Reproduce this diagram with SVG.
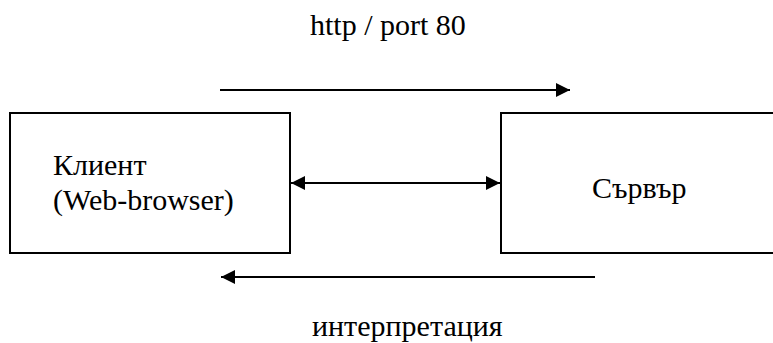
<svg xmlns="http://www.w3.org/2000/svg" width="773" height="343" viewBox="0 0 773 343">
  <style>
    .box { fill: #fff; stroke: #000; stroke-width: 2; }
    .line { stroke: #000; stroke-width: 2; fill: none; }
  </style>
  <defs>
    <marker id="head" viewBox="0 0 10 10" refX="10" refY="5" markerWidth="15" markerHeight="14" markerUnits="userSpaceOnUse" orient="auto-start-reverse">
      <path d="M0,0 L10,5 L0,10 Z" fill="#000"/>
    </marker>
  </defs>
  <rect width="773" height="343" fill="#fff"/>

  <g font-family="Liberation Serif, Times New Roman, Times, DejaVu Serif, serif" font-size="30" fill="#000">
    <g id="client">
      <rect class="box" x="10" y="113" width="280" height="140"/>
      <text x="53" y="175">Клиент</text>
      <text x="53" y="210">(Web-browser)</text>
    </g>

    <g id="server">
      <rect class="box" x="501" y="113" width="280" height="140"/>
      <text x="592" y="198">Сървър</text>
    </g>

    <g id="labels">
      <text x="310" y="35">http / port 80</text>
      <text x="312" y="336">интерпретация</text>
    </g>
  </g>

  <g id="connectors">
    <line class="line" x1="220" y1="90" x2="570" y2="90" marker-end="url(#head)"/>
    <line class="line" x1="291" y1="183" x2="500" y2="183" marker-start="url(#head)" marker-end="url(#head)"/>
    <line class="line" x1="595" y1="277" x2="221" y2="277" marker-end="url(#head)"/>
  </g>
</svg>
